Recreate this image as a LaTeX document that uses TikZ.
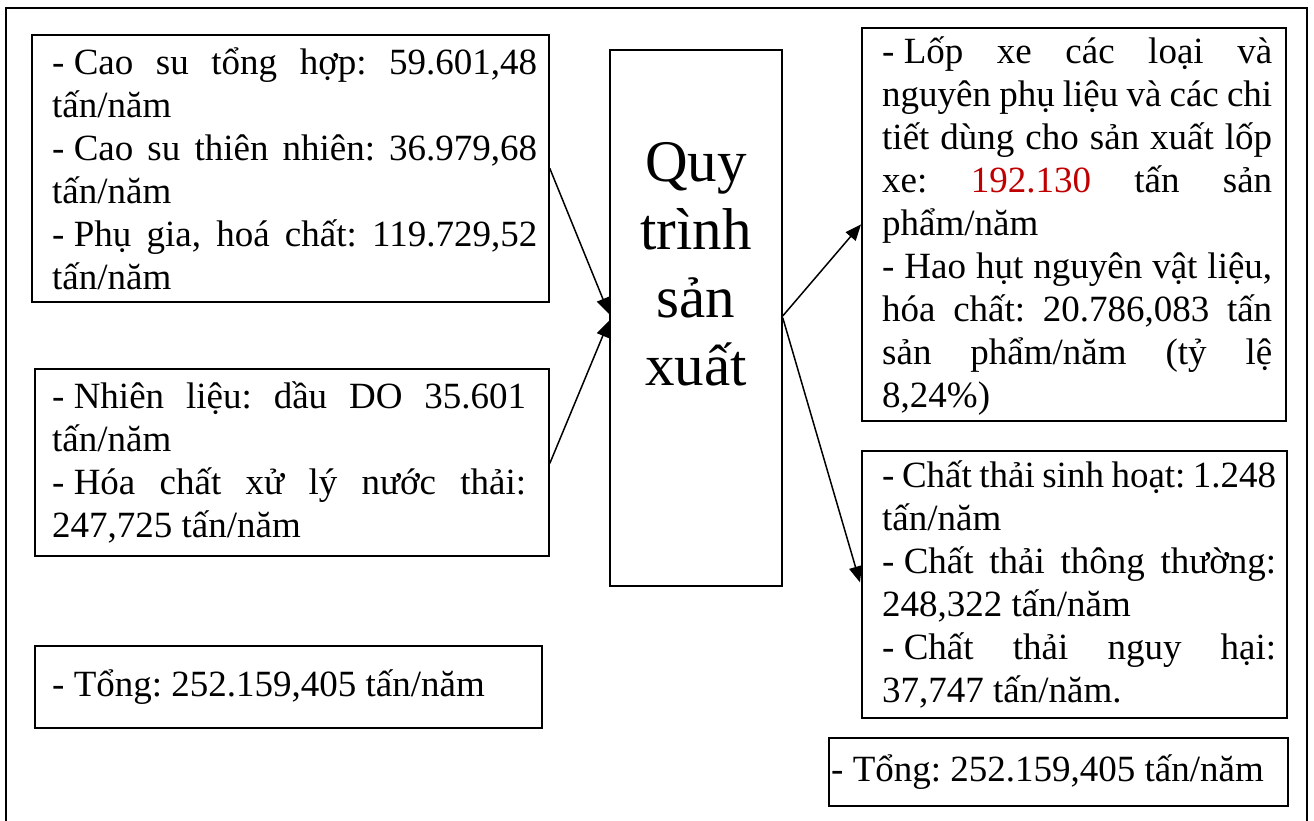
\documentclass[tikz,border=0pt]{standalone}
\usepackage{fontspec}
\setmainfont{Liberation Serif}
\usetikzlibrary{arrows.meta,calc}
\definecolor{numred}{RGB}{192,0,0}
\frenchspacing
\newcommand\jline[1]{\hbox to\hsize{\spaceskip=0pt\xspaceskip=0pt\relax #1}}
\newcommand\lline[1]{\hbox to\hsize{\spaceskip=0pt\xspaceskip=0pt\relax #1\hfil}}
\newcommand\dsh{-\hspace{0.25em}}
\hbadness=10000 \hfuzz=20pt
\begin{document}
\begin{tikzpicture}[x=1pt,y=-1pt,
  box/.style={draw, line width=1.8pt, rectangle, inner sep=0pt, anchor=north west},
  body/.style={inner sep=0pt, anchor=west, text width=#1, font=\fontsize{37}{43}\selectfont},
  single/.style={inner sep=0pt, anchor=west, font=\fontsize{37}{43}\selectfont},
  flow/.style={line width=1.5pt, -{Triangle[length=16pt,width=13pt]}}]
\useasboundingbox (0,0) rectangle (1314,820);
\clip (0,0) rectangle (1314,820);
\draw[line width=2pt] (6,8) rectangle (1307,840);

% left boxes
\node[box, minimum width=517pt, minimum height=267pt] (A) at (31,34) {};
\node[body=485pt] (At) at ($(A.west)+(21,0)$) {%
\jline{\dsh Cao su tổng hợp: 59.601,48}
\lline{tấn/năm}
\jline{\dsh Cao su thiên nhiên: 36.979,68}
\lline{tấn/năm}
\jline{\dsh Phụ gia, hoá chất: 119.729,52}
\lline{tấn/năm}};

\node[box, minimum width=514pt, minimum height=187pt] (B) at (34,368) {};
\node[body=474pt] (Bt) at ($(B.west)+(18,0)$) {%
\jline{\dsh Nhiên liệu: dầu DO 35.601}
\lline{tấn/năm}
\jline{\dsh Hóa chất xử lý nước thải:}
\lline{247,725 tấn/năm}};

\node[box, minimum width=507pt, minimum height=82pt] (C) at (34,645) {};
\node[single] (Ct) at ($(C.west)+(18,0)$) {- Tổng: 252.159,405 tấn/năm};

% centre
\node[box, minimum width=172pt, minimum height=536pt] (P) at (609,49) {};
\node[anchor=north, align=center, inner sep=0pt, font=\fontsize{59}{68}\selectfont] (Pt) at ($(P.north)+(0,93)$) {Quy\\trình\\sản\\xuất};

% right boxes
\node[box, minimum width=424pt, minimum height=393pt] (D) at (861,27) {};
\node[body=390pt] (Dt) at ($(D.west)+(21,2)$) {%
\jline{\dsh Lốp xe các loại và}
\jline{nguyên phụ liệu và các chi}
\jline{tiết dùng cho sản xuất lốp}
\jline{xe: \textcolor{numred}{192.130} tấn sản}
\lline{phẩm/năm}
\jline{- Hao hụt nguyên vật liệu,}
\jline{hóa chất: 20.786,083 tấn}
\jline{sản phẩm/năm (tỷ lệ}
\lline{8,24\%)}};

\node[box, minimum width=425pt, minimum height=267pt] (E) at (861,450) {};
\node[body=394pt] (Et) at ($(E.west)+(21,0)$) {%
\jline{- Chất thải sinh hoạt: 1.248}
\lline{tấn/năm}
\jline{\dsh Chất thải thông thường:}
\lline{248,322 tấn/năm}
\jline{\dsh Chất thải nguy hại:}
\lline{37,747 tấn/năm.}};

\node[box, minimum width=459pt, minimum height=68pt] (F) at (828,737) {};
\node[single] (Ft) at ($(F.west)+(3,0)$) {- Tổng: 252.159,405 tấn/năm};

% connectors
\draw[flow] (A.east) -- ($(P.west)+(0,-4)$);
\draw[flow] ($(B.east)+(0,1)$) -- ($(P.west)+(0,3)$);
\draw[flow] ($(P.east)+(0,-2)$) -- (D.west);
\draw[flow] (P.east) -- ($(E.west)+(-1,-2)$);
\end{tikzpicture}
\end{document}
